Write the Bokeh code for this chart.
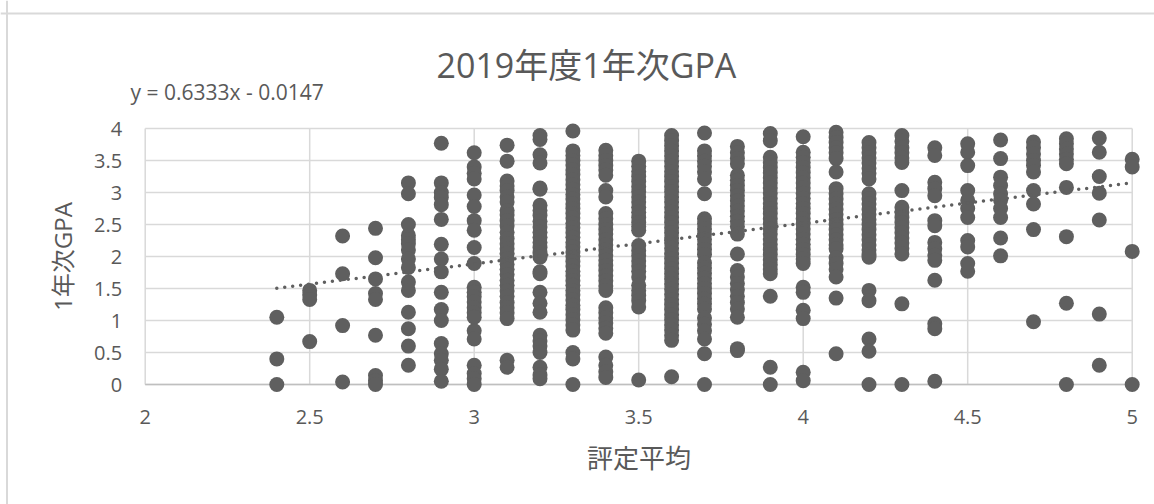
from bokeh.plotting import figure
from bokeh.embed import file_html
from bokeh.resources import INLINE
from bokeh.models import Range1d, FixedTicker, Label, Span

TITLE = "2019年度1年次GPA"
X_LABEL = "評定平均"
Y_LABEL = "1年次GPA"
EQUATION = "y = 0.6333x - 0.0147"

x_ticks = [2, 2.5, 3, 3.5, 4, 4.5, 5]
y_ticks = [0, 0.5, 1, 1.5, 2, 2.5, 3, 3.5, 4]

col_2_4 = [1.05, 0.40, 0.0]
col_2_5 = [1.47, 1.40, 1.33, 0.67]
col_2_6 = [2.32, 1.73, 0.92, 0.04]
col_2_7 = [2.44, 1.98, 1.65, 1.42, 1.33, 0.77, 0.14, 0.06, 0.0]
col_2_8 = [3.15, 2.98, 2.5, 2.33, 2.26, 2.2, 2.1, 1.96, 1.83, 1.6, 1.47, 1.13, 0.87, 0.6, 0.3]
col_2_9 = [3.77, 3.15, 3.0, 2.92, 2.81, 2.58, 2.19, 1.96, 1.76, 1.44, 1.17, 1.0, 0.64, 0.48, 0.38, 0.24, 0.05]
col_3_0 = [3.62, 3.40, 3.30, 3.21, 2.96, 2.78, 2.56, 2.41, 2.14, 1.89, 1.52, 1.44, 1.37, 1.29, 1.2, 1.12, 1.05,
           0.84, 0.71, 0.30, 0.17, 0.09, 0.0]
col_3_1 = [3.74, 3.49, 3.18, 3.1, 3.03, 2.93, 2.85, 2.72, 2.65, 2.56, 2.48, 2.38, 2.28, 2.2, 2.12, 2.05, 1.96,
           1.88, 1.8, 1.72, 1.63, 1.55, 1.46, 1.38, 1.28, 1.2, 1.12, 1.03, 0.38, 0.27]
col_3_2 = [3.89, 3.83, 3.59, 3.46, 3.07, 3.05, 2.8, 2.72, 2.64, 2.55, 2.46, 2.38, 2.3, 2.22, 2.14, 2.06, 1.99,
           1.76, 1.73, 1.44, 1.27, 1.13, 0.77, 0.68, 0.6, 0.5, 0.27, 0.15, 0.09]
col_3_3 = [3.96, 3.65, 3.58, 3.5, 3.43, 3.35, 3.28, 3.2, 3.12, 3.05, 2.97, 2.9, 2.82, 2.75, 2.67, 2.6, 2.52, 2.45,
           2.37, 2.3, 2.22, 2.15, 2.07, 2.0, 1.92, 1.85, 1.77, 1.7, 1.62, 1.55, 1.47, 1.4, 1.32, 1.24, 1.17, 1.09,
           1.01, 0.93, 0.85, 0.5, 0.4, 0.0]
col_3_4 = [3.66, 3.58, 3.5, 3.42, 3.35, 3.27, 3.03, 2.93, 2.67, 2.59, 2.5, 2.42, 2.35, 2.26, 2.18, 2.1, 2.02, 1.94,
           1.86, 1.78, 1.7, 1.62, 1.54, 1.47, 1.2, 1.12, 1.04, 0.96, 0.88, 0.8, 0.43, 0.3, 0.2, 0.11]
col_3_5 = [3.49, 3.41, 3.33, 3.25, 3.17, 3.09, 3.01, 2.93, 2.85, 2.77, 2.69, 2.61, 2.53, 2.47, 2.41, 2.17, 2.09,
           2.01, 1.93, 1.85, 1.77, 1.68, 1.55, 1.47, 1.39, 1.31, 1.21, 0.07]
col_3_6 = [3.89, 3.81, 3.73, 3.65, 3.57, 3.49, 3.41, 3.33, 3.25, 3.17, 3.09, 3.01, 2.93, 2.85, 2.77, 2.69, 2.61,
           2.53, 2.45, 2.37, 2.29, 2.21, 2.13, 2.05, 1.97, 1.89, 1.81, 1.73, 1.65, 1.57, 1.49, 1.41, 1.33, 1.25,
           1.17, 1.09, 1.01, 0.93, 0.85, 0.77, 0.69, 0.12]
col_3_7 = [3.93, 3.65, 3.57, 3.49, 3.41, 3.32, 3.21, 2.98, 2.59, 2.51, 2.43, 2.35, 2.27, 2.19, 2.11, 2.03, 1.9,
           1.82, 1.74, 1.66, 1.58, 1.5, 1.42, 1.34, 1.26, 1.18, 1.04, 0.94, 0.84, 0.71, 0.48, 0.0]
col_3_8 = [3.72, 3.62, 3.53, 3.45, 3.27, 3.19, 3.11, 3.03, 2.95, 2.87, 2.79, 2.71, 2.63, 2.55, 2.47, 2.35, 2.04,
           1.78, 1.68, 1.58, 1.48, 1.38, 1.28, 1.18, 1.05, 0.56, 0.53]
col_3_9 = [3.92, 3.81, 3.55, 3.47, 3.39, 3.31, 3.23, 3.15, 3.07, 2.99, 2.91, 2.83, 2.75, 2.67, 2.59, 2.51, 2.43,
           2.35, 2.27, 2.19, 2.11, 2.03, 1.95, 1.87, 1.8, 1.73, 1.38, 0.27, 0.0]
col_4_0 = [3.87, 3.63, 3.55, 3.47, 3.39, 3.31, 3.23, 3.15, 3.07, 2.99, 2.91, 2.83, 2.75, 2.67, 2.59, 2.51, 2.43,
           2.35, 2.27, 2.19, 2.11, 2.03, 1.96, 1.89, 1.52, 1.44, 1.16, 1.03, 0.19, 0.06]
col_4_1 = [3.94, 3.86, 3.78, 3.7, 3.62, 3.53, 3.32, 3.06, 2.98, 2.9, 2.82, 2.74, 2.66, 2.58, 2.5, 2.42, 2.34, 2.26,
           2.18, 2.12, 1.98, 1.89, 1.8, 1.68, 1.35, 0.48]
col_4_2 = [3.78, 3.7, 3.62, 3.54, 3.46, 3.38, 3.3, 3.21, 2.98, 2.9, 2.82, 2.74, 2.66, 2.58, 2.5, 2.42, 2.34, 2.26,
           2.18, 2.1, 2.03, 1.99, 1.47, 1.31, 0.71, 0.52, 0.0]
col_4_3 = [3.89, 3.8, 3.7, 3.62, 3.54, 3.47, 3.03, 2.77, 2.69, 2.61, 2.53, 2.45, 2.37, 2.29, 2.21, 2.13, 2.04,
           1.26, 0.0]
col_4_4 = [3.7, 3.58, 3.16, 3.06, 2.95, 2.56, 2.48, 2.22, 2.12, 2.02, 1.94, 1.63, 0.95, 0.87, 0.05]
col_4_5 = [3.76, 3.63, 3.42, 3.03, 2.88, 2.75, 2.61, 2.25, 2.15, 1.89, 1.77]
col_4_6 = [3.82, 3.53, 3.24, 3.11, 2.98, 2.88, 2.75, 2.61, 2.29, 2.01]
col_4_7 = [3.79, 3.7, 3.6, 3.5, 3.42, 3.32, 3.03, 2.82, 2.42, 0.98]
col_4_8 = [3.84, 3.76, 3.68, 3.6, 3.52, 3.45, 3.08, 2.31, 1.27, 0.0]
col_4_9 = [3.85, 3.63, 3.25, 2.99, 2.57, 1.10, 0.30]
col_5_0 = [3.52, 3.40, 2.08, 0.0]

columns = {2.4: col_2_4, 2.5: col_2_5, 2.6: col_2_6, 2.7: col_2_7, 2.8: col_2_8, 2.9: col_2_9,
           3.0: col_3_0, 3.1: col_3_1, 3.2: col_3_2, 3.3: col_3_3, 3.4: col_3_4, 3.5: col_3_5,
           3.6: col_3_6, 3.7: col_3_7, 3.8: col_3_8, 3.9: col_3_9, 4.0: col_4_0, 4.1: col_4_1,
           4.2: col_4_2, 4.3: col_4_3, 4.4: col_4_4, 4.5: col_4_5, 4.6: col_4_6, 4.7: col_4_7,
           4.8: col_4_8, 4.9: col_4_9, 5.0: col_5_0}

trend_x = [2.4, 5.0]
trend_y = [1.505, 3.152]

TEXT = "#595959"
MARK = "#5f5f5f"
GRID = "#d9d9d9"
FONT = "'Open Sans', 'Noto Sans CJK JP'"

W, H = 1154, 504
X0_PX, X_SCALE = 144.7, 329.0   # pixel of x=2, pixels per unit
Y0_PX, Y_SCALE = 384.0, 64.0    # pixel of y=0, pixels per unit

# The frame fills the page, so markers on the edge lines are not cut and the axes sit inside it.
p = figure(width=W, height=H, output_backend="svg", toolbar_location=None,
           x_range=Range1d(2 - X0_PX / X_SCALE, 2 + (W - X0_PX) / X_SCALE),
           y_range=Range1d(-(H - Y0_PX) / Y_SCALE, Y0_PX / Y_SCALE),
           frame_width=W, frame_height=H,
           min_border=0,
           background_fill_color="white", border_fill_color="white", outline_line_color=None)

for ax, ticks, lab in ((p.xaxis[0], x_ticks, X_LABEL), (p.yaxis[0], y_ticks, Y_LABEL)):
    ax.ticker = FixedTicker(ticks=ticks)
    ax.axis_label = lab
    ax.axis_line_color = None
    ax.major_tick_line_color = None
    ax.minor_tick_line_color = None
    ax.major_label_text_font = FONT
    ax.major_label_text_font_size = "20px"
    ax.major_label_text_color = TEXT
    ax.axis_label_text_font = FONT
    ax.axis_label_text_font_size = "24px"
    ax.axis_label_text_font_style = "normal"
    ax.axis_label_text_color = TEXT
p.xaxis[0].axis_label_text_font_size = "26px"
p.xaxis[0].fixed_location = 0
p.yaxis[0].fixed_location = 2
p.xaxis[0].bounds = (2, 5)
p.yaxis[0].bounds = (0, 4)
p.xaxis[0].major_label_standoff = 19
p.xaxis[0].axis_label_standoff = 13
p.yaxis[0].major_label_standoff = 17
p.yaxis[0].axis_label_standoff = 12

p.grid.visible = False
p.segment(x0=x_ticks, x1=x_ticks, y0=[y_ticks[0]] * len(x_ticks), y1=[y_ticks[-1]] * len(x_ticks),
          line_color=GRID, line_width=1.5, level="underlay")
p.segment(x0=[x_ticks[0]] * len(y_ticks), x1=[x_ticks[-1]] * len(y_ticks), y0=y_ticks, y1=y_ticks,
          line_color=GRID, line_width=1.5, level="underlay")
p.line([x_ticks[0], x_ticks[-1]], [0, 0], line_color="#bfbfbf", line_width=1.5, level="underlay")

xs, ys = [], []
for x, vals in columns.items():
    xs += [x] * len(vals)
    ys += vals
p.scatter(xs, ys, size=15, fill_color=MARK, line_color=MARK, line_width=0)
p.line(trend_x, trend_y, line_color=MARK, line_width=3.5, line_dash="0 8", line_cap="round")

# Chart-area border: only its left and top edges lie inside the picture.
p.add_layout(Span(location=2 + (6.5 - X0_PX) / X_SCALE, dimension="height", line_color=GRID, line_width=2))
p.add_layout(Span(location=(Y0_PX - 13) / Y_SCALE, dimension="width", line_color=GRID, line_width=2))

p.add_layout(Label(x=436, y=H - 64, x_units="screen", y_units="screen", text=TITLE,
                   text_font=FONT, text_font_size="34px", text_color=TEXT,
                   text_baseline="alphabetic"))
p.add_layout(Label(x=130, y=H - 91, x_units="screen", y_units="screen", text=EQUATION,
                   text_font=FONT, text_font_size="21px", text_color=TEXT,
                   text_baseline="alphabetic"))

open("out.html", "w").write(file_html(p, INLINE))
